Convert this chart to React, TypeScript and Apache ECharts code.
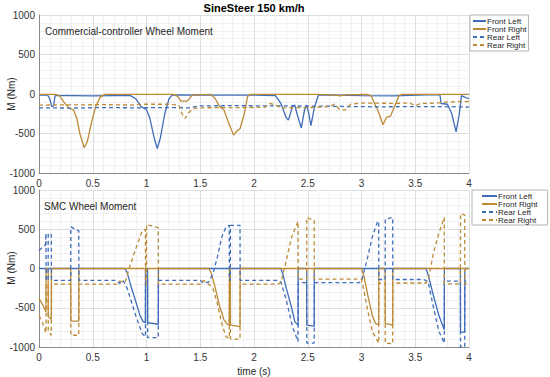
import React, { useEffect, useRef } from "react";
import * as echarts from "echarts";

const title = "SineSteer 150 km/h";
const seriesNames = ["Front Left", "Front Right", "Rear Left", "Rear Right"];
const xTicks = [0, 0.5, 1, 1.5, 2, 2.5, 3, 3.5, 4];
const yTicks = [-1000, -500, 0, 500, 1000];

// Commercial-controller wheel moment [time s, M Nm]
const topFrontLeft: number[][] = [
  [0, -15], [0.08, -15], [0.1, -60], [0.12, -160], [0.135, -150], [0.15, -20], [0.3, -20], [0.5, -25], [0.7, -20],
  [0.85, -20], [0.9, -60], [0.95, -160], [1.0, -200], [1.03, -300], [1.07, -550], [1.1, -690], [1.13, -550],
  [1.17, -250], [1.21, -60], [1.24, -10], [1.5, -15], [1.8, -15], [2.0, -15], [2.2, -20], [2.25, -120],
  [2.3, -300], [2.32, -330], [2.36, -150], [2.38, -140], [2.4, -250], [2.44, -430], [2.47, -200], [2.49, -140],
  [2.51, -250], [2.53, -400], [2.56, -180], [2.6, -10], [2.8, -15], [3.0, -20], [3.3, -25], [3.6, -10],
  [3.73, -10], [3.74, -120], [3.8, -130], [3.84, -250], [3.88, -480], [3.91, -250], [3.93, -20], [3.96, -40], [4.0, -60],
];
const topFrontRight: number[][] = [
  [0, -5], [0.15, -5], [0.19, -20], [0.23, -100], [0.28, -180], [0.32, -200], [0.35, -300], [0.38, -500],
  [0.42, -680], [0.45, -600], [0.49, -350], [0.53, -150], [0.57, -40], [0.61, -5], [1.0, -5], [1.25, -5],
  [1.29, -30], [1.32, -90], [1.38, -90], [1.41, -40], [1.43, -10], [1.6, -5], [1.64, -60], [1.68, -160],
  [1.72, -200], [1.76, -350], [1.81, -520], [1.84, -470], [1.87, -440], [1.91, -250], [1.94, -30], [1.97, -5],
  [2.6, -5], [2.75, -15], [2.8, -25], [2.85, -10], [3.05, -5], [3.09, -20], [3.12, -120], [3.15, -200], [3.2, -390],
  [3.23, -300], [3.27, -280], [3.31, -150], [3.35, -20], [3.38, -5], [4.0, -5],
];
const topRearLeft: number[][] = [
  [0, -175], [0.3, -178], [0.6, -172], [0.9, -175], [1.2, -172], [1.4, -175], [1.45, -160], [1.5, -150],
  [1.8, -148], [2.1, -150], [2.4, -152], [2.7, -155], [2.9, -160], [3.2, -162], [3.5, -160], [3.8, -160], [4.0, -165],
];
const topRearRight: number[][] = [
  [0, -140], [0.3, -138], [0.6, -135], [0.85, -140], [0.95, -130], [1.2, -130], [1.3, -140], [1.33, -250],
  [1.36, -310], [1.39, -240], [1.42, -200], [1.45, -180], [1.5, -175], [1.8, -172], [2.1, -170], [2.15, -120],
  [2.2, -140], [2.25, -175], [2.5, -172], [2.7, -160], [2.75, -130], [2.8, -200], [2.85, -200], [2.9, -130],
  [3.0, -115], [3.3, -118], [3.45, -115], [3.5, -150], [3.55, -120], [3.7, -115], [3.8, -100], [4.0, -95],
];

// SMC wheel moment [time s, M Nm]
const botFrontLeft: number[][] = [
  [0, 0], [0.8, 0], [0.82, -50], [0.85, -200], [0.9, -420], [0.94, -600], [0.97, -680], [0.99, -690],
  [0.991, 0], [1.01, 0], [1.011, -690], [1.11, -710], [1.111, 0], [2.25, 0], [2.27, -80], [2.3, -250],
  [2.35, -500], [2.38, -680], [2.41, -720], [2.411, 0], [2.49, 0], [2.491, -720], [2.56, -735], [2.561, 0],
  [3.6, 0], [3.62, -80], [3.67, -350], [3.72, -600], [3.77, -780], [3.771, 0], [3.92, 0], [3.921, -810],
  [3.96, -810], [3.961, 0], [4, 0],
];
const botFrontRight: number[][] = [
  [0, -380], [0.03, -450], [0.065, -550], [0.066, 0], [0.085, 0], [0.086, -610], [0.115, -650], [0.116, 0],
  [0.295, 0], [0.296, -670], [0.37, -670], [0.371, 0], [1.58, 0], [1.6, -50], [1.64, -250], [1.68, -480],
  [1.72, -650], [1.75, -710], [1.77, -720], [1.771, 0], [1.78, 0], [1.781, -720], [1.87, -740], [1.871, 0],
  [3.0, 0], [3.02, -80], [3.06, -350], [3.1, -600], [3.13, -700], [3.16, -720], [3.161, 0], [3.22, 0],
  [3.221, -700], [3.29, -720], [3.291, 0], [4, 0],
];
const botRearLeft: number[][] = [
  [0, 230], [0.06, 300], [0.065, 450], [0.066, -150], [0.085, -150], [0.086, 450], [0.115, 430], [0.116, -150],
  [0.295, -150], [0.296, 530], [0.37, 480], [0.371, -150], [0.72, -150], [0.75, -190], [0.78, -150],
  [0.82, -250], [0.9, -600], [0.96, -830], [0.99, -870], [0.991, -150], [1.01, -150], [1.011, -880],
  [1.11, -880], [1.111, -150], [1.5, -150], [1.53, -190], [1.58, -170], [1.62, -60], [1.66, 150], [1.7, 400],
  [1.74, 530], [1.77, 550], [1.771, -150], [1.78, -150], [1.781, 550], [1.87, 550], [1.871, -150], [2.22, -150],
  [2.25, -170], [2.3, -400], [2.36, -750], [2.41, -930], [2.411, -180], [2.49, -180], [2.491, -950],
  [2.56, -950], [2.561, -180], [2.98, -180], [3.0, -160], [3.05, 100], [3.1, 400], [3.15, 600], [3.16, 600],
  [3.161, -140], [3.22, -140], [3.221, 630], [3.29, 650], [3.291, -140], [3.58, -140], [3.62, -170],
  [3.67, -500], [3.72, -800], [3.77, -950], [3.771, -160], [3.92, -160], [3.921, -1000], [3.96, -1000],
  [3.961, -160], [4, -160],
];
const botRearRight: number[][] = [
  [0, -600], [0.03, -680], [0.065, -820], [0.066, -200], [0.085, -200], [0.086, -800], [0.115, -850],
  [0.116, -200], [0.295, -200], [0.296, -850], [0.37, -850], [0.371, -200], [0.72, -200], [0.75, -160],
  [0.8, -180], [0.85, 50], [0.9, 250], [0.96, 480], [0.99, 500], [0.991, -200], [1.0, -200], [1.001, 560],
  [1.11, 520], [1.111, -200], [1.5, -200], [1.53, -150], [1.58, -200], [1.62, -260], [1.66, -450],
  [1.7, -700], [1.74, -870], [1.77, -890], [1.771, -200], [1.78, -200], [1.781, -900], [1.87, -900],
  [1.871, -200], [2.22, -200], [2.25, -180], [2.3, 100], [2.35, 400], [2.41, 600], [2.411, -135],
  [2.49, -135], [2.491, 650], [2.56, 610], [2.561, -135], [3.0, -135], [3.02, -260], [3.06, -550],
  [3.1, -800], [3.16, -950], [3.161, -185], [3.22, -185], [3.221, -950], [3.29, -960], [3.291, -185],
  [3.6, -185], [3.62, -150], [3.67, 200], [3.72, 450], [3.77, 650], [3.771, -195], [3.92, -195],
  [3.921, 700], [3.96, 680], [3.961, -195], [4, -195],
];

const BLUE = "#3f6dba";
const OCHRE = "#bd8a36";
const FONT = "Liberation Sans, Arial, sans-serif";

export default function App() {
  const ref = useRef<HTMLDivElement>(null);
  useEffect(() => {
    if (!ref.current) return;
    const chart = echarts.init(ref.current, undefined, { renderer: "svg" });
    const colors = [BLUE, OCHRE, BLUE, OCHRE];
    const types: any[] = ["solid", "solid", [4, 3], [4, 3]];
    const mkSeries = (data: number[][][], idx: number) =>
      data.map((d, i) => ({
        name: seriesNames[i],
        type: "line",
        xAxisIndex: idx,
        yAxisIndex: idx,
        data: d,
        showSymbol: false,
        symbol: "none",
        color: colors[i],
        lineStyle: { width: 1.3, color: colors[i], type: types[i] },
        z: 2 + i,
      }));
    const xAxis = (idx: number) => ({
      type: "value",
      gridIndex: idx,
      min: 0,
      max: 4,
      interval: 0.5,
      name: idx === 1 ? "time (s)" : "",
      nameLocation: "middle",
      nameGap: 19,
      nameTextStyle: { fontFamily: FONT, fontSize: 10, color: "#262626" },
      axisLine: { show: true, onZero: false, lineStyle: { color: "#8a8a8a", width: 1 } },
      axisTick: { show: false },
      axisLabel: {
        fontFamily: FONT, fontSize: 10, color: "#333", margin: 5,
        formatter: (v: number) => (xTicks.includes(v) ? String(v) : ""),
      },
      splitLine: { show: true, lineStyle: { color: "#dedede", width: 1 } },
      minorTick: { show: false, splitNumber: 5 },
      minorSplitLine: { show: true, lineStyle: { color: "#f1f1f1", width: 1 } },
    });
    const yAxis = (idx: number) => ({
      type: "value",
      gridIndex: idx,
      min: -1000,
      max: 1000,
      interval: 500,
      axisLine: { show: true, lineStyle: { color: "#8a8a8a", width: 1 } },
      axisTick: { show: false },
      axisLabel: {
        fontFamily: FONT, fontSize: 10, color: "#333", margin: 4,
        formatter: (v: number) => (yTicks.includes(v) ? String(v) : ""),
      },
      splitLine: { show: true, lineStyle: { color: "#dedede", width: 1 } },
      minorTick: { show: false, splitNumber: 5 },
      minorSplitLine: { show: true, lineStyle: { color: "#f1f1f1", width: 1 } },
    });
    const legendBase = {
      orient: "vertical",
      data: seriesNames,
      backgroundColor: "#fff",
      borderColor: "#b5b5b5",
      borderWidth: 1,
      borderRadius: 0,
      itemGap: 0,
      itemHeight: 9.5,
      itemStyle: { opacity: 0 },
    };
    chart.setOption({
      animation: false,
      backgroundColor: "#ffffff",
      textStyle: { fontFamily: FONT },
      grid: [
        { left: 39, right: 81, top: 15, height: 158, containLabel: false, outerBoundsMode: "none" },
        { left: 39, right: 81, top: 190, height: 157, containLabel: false, outerBoundsMode: "none" },
      ],
      xAxis: [xAxis(0), xAxis(1)],
      yAxis: [yAxis(0), yAxis(1)],
      legend: [
        {
          ...legendBase,
          left: 470, top: 15,
          itemWidth: 13,
          padding: [2, 2, 2, 2],
          textStyle: { fontFamily: FONT, fontSize: 8, color: "#262626", padding: [0, 0, 0, -4] },
        },
        {
          ...legendBase,
          left: 472, top: 190,
          itemWidth: 15,
          padding: [2, 10, 1, 9],
          textStyle: { fontFamily: FONT, fontSize: 8, color: "#262626", padding: [0, 0, 0, -4] },
        },
      ],
      graphic: [
        { type: "text", x: 254, y: 2, z: 100, style: { text: title, font: `bold 11px ${FONT}`, fill: "#000", textAlign: "center" } },
        { type: "text", x: 45, y: 26, z: 100, style: { text: "Commercial-controller Wheel Moment", font: `10px ${FONT}`, fill: "#262626" } },
        { type: "text", x: 44, y: 201, z: 100, style: { text: "SMC Wheel Moment", font: `10px ${FONT}`, fill: "#262626" } },
        { type: "text", x: 11, y: 94, rotation: Math.PI / 2, z: 100, style: { text: "M (Nm)", font: `10px ${FONT}`, fill: "#262626", textAlign: "center", textVerticalAlign: "middle" } },
        { type: "text", x: 11, y: 268, rotation: Math.PI / 2, z: 100, style: { text: "M (Nm)", font: `10px ${FONT}`, fill: "#262626", textAlign: "center", textVerticalAlign: "middle" } },
      ],
      series: [
        ...mkSeries([topFrontLeft, topFrontRight, topRearLeft, topRearRight], 0),
        ...mkSeries([botFrontLeft, botFrontRight, botRearLeft, botRearRight], 1),
      ],
    });
    return () => chart.dispose();
  }, []);
  return <div ref={ref} style={{ position: "fixed", left: 0, top: 0, width: 550, height: 377 }} />;
}
